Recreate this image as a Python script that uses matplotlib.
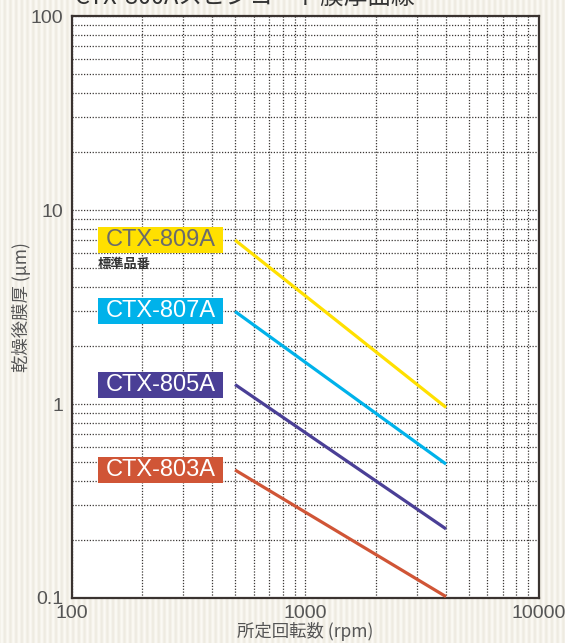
import numpy as np
import matplotlib
matplotlib.use("Agg")
from matplotlib import pyplot as plt
from matplotlib.patches import Rectangle
import matplotlib.transforms as mtransforms

plt.rcParams['font.family'] = ['Liberation Sans', 'Noto Sans CJK JP', 'DejaVu Sans']

# data
rpm = [500, 4000]
products = ["CTX-809A", "CTX-807A", "CTX-805A", "CTX-803A"]
thickness = [
    [7.0, 0.96],
    [3.0, 0.49],
    [1.26, 0.227],
    [0.457, 0.1016],
]
line_colors = ["#ffe000", "#00b2ea", "#4a3f96", "#d05536"]
label_text_colors = ["#6b6b6b", "white", "white", "white"]

x_ticks = [100, 1000, 10000]
x_ticklabels = ["100", "1000", "10000"]
y_ticks = [0.1, 1, 10, 100]
y_ticklabels = ["0.1", "1", "10", "100"]

fig = plt.figure(figsize=(5.65, 6.43), dpi=100)

# striped cream background
bg = fig.add_axes([0, 0, 1, 1], zorder=-10)
cols = np.arange(565)
wave = 0.5 + 0.5 * np.sin(2 * np.pi * cols / 5.7)
light = np.array([0.985, 0.978, 0.957])
dark = np.array([0.935, 0.922, 0.885])
row = light[None, :] * wave[:, None] + dark[None, :] * (1 - wave[:, None])
bg.imshow(row[None, :, :], aspect='auto', extent=[0, 1, 0, 1])
bg.axis('off')

ax = fig.add_axes([0.127, 0.070, 0.827, 0.905])
ax.set_facecolor('white')
ax.set_xscale('log')
ax.set_yscale('log')
ax.set_xlim(100, 10000)
ax.set_ylim(0.1, 100)

ax.grid(True, which='both', color='#3a3634', linestyle=(0, (1, 1.3)), linewidth=0.9)
ax.set_axisbelow(True)

for vals, c in zip(thickness, line_colors):
    ax.plot(rpm, vals, color=c, linewidth=2.3, solid_capstyle='butt', zorder=3)

ax.set_xticks(x_ticks)
ax.set_xticklabels(x_ticklabels)
ax.set_yticks(y_ticks)
ax.set_yticklabels(y_ticklabels)
ax.tick_params(which='both', length=0, labelsize=14, colors='#555555', pad=6)
ax.tick_params(axis='x', pad=5)
ax.xaxis.set_minor_formatter(matplotlib.ticker.NullFormatter())
ax.yaxis.set_minor_formatter(matplotlib.ticker.NullFormatter())
for s in ax.spines.values():
    s.set_color('#3a3330')
    s.set_linewidth(1.6)

# product label boxes, centred on each line's starting value
trans = mtransforms.blended_transform_factory(ax.transAxes, ax.transData)
for name, vals, c, tc in zip(products, thickness, line_colors, label_text_colors):
    y0 = vals[0]
    ylog = np.log10(y0)
    half = 13 / 194.0
    lo, hi = 10 ** (ylog - half), 10 ** (ylog + half)
    ax.add_patch(Rectangle((0.0563, lo), 0.2675, hi - lo, transform=trans,
                           facecolor=c, edgecolor='none', zorder=4, clip_on=False))
    ax.text(0.0563 + 0.2675 / 2, y0, name, transform=trans, ha='center', va='center',
            fontsize=17, color=tc, zorder=5)

ax.text(0.0563, 10 ** (np.log10(thickness[0][0]) - 24 / 194.0), "標準品番", transform=trans,
        ha='left', va='center', fontsize=9.5, fontweight='bold', color='#333333',
        family=['Noto Sans CJK JP', 'DejaVu Sans'], zorder=5)

ax.set_xlabel("所定回転数 (rpm)", fontsize=12.5, color='#555555', labelpad=0,
              family=['Noto Sans CJK JP', 'DejaVu Sans'])
ax.set_ylabel("乾燥後膜厚 (μm)", fontsize=12.5, color='#555555', labelpad=0,
              family=['Noto Sans CJK JP', 'DejaVu Sans'])

fig.text(0.434, 1 - 5 / 643, "CTX-800Aスピンコート膜厚曲線", ha='center', va='baseline',
         fontsize=17, color='#333333', family=['Noto Sans CJK JP', 'DejaVu Sans'])

plt.savefig("out.png", dpi=100)
